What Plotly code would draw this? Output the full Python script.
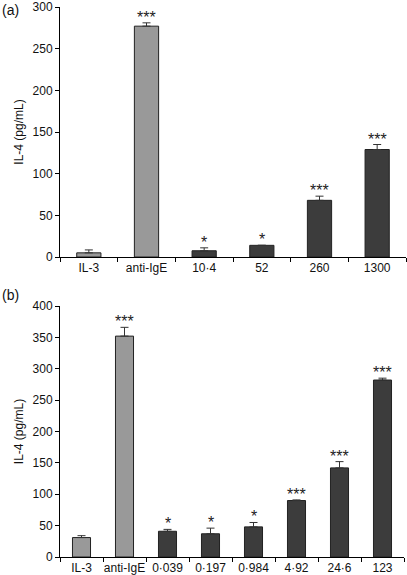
import plotly.graph_objects as go

cats_a = ["IL-3", "anti-IgE", "10·4", "52", "260", "1300"]
vals_a = [5, 277, 7.5, 14, 68, 129]
errs_a = [3.5, 4, 3.5, 0, 5, 6]
stars_a = ["", "***", "*", "*", "***", "***"]
colors_a = ["#999999", "#999999", "#3c3c3c", "#3c3c3c", "#3c3c3c", "#3c3c3c"]

cats_b = ["IL-3", "anti-IgE", "0·039", "0·197", "0·984", "4·92", "24·6", "123"]
vals_b = [31, 352, 41, 37, 48, 90, 142, 282]
errs_b = [3, 14, 3, 9, 7, 1, 10, 3]
stars_b = ["", "***", "*", "*", "*", "***", "***", "***"]
colors_b = ["#999999", "#999999"] + ["#3c3c3c"] * 6

FONT = "Liberation Sans, Arial, sans-serif"

fig = go.Figure()
fig.add_trace(go.Bar(
    x=cats_a, y=vals_a, xaxis="x", yaxis="y",
    marker=dict(color=colors_a, line=dict(color="#222222", width=1)),
    width=0.42,
    error_y=dict(type="data", array=errs_a, arrayminus=[0]*len(errs_a), symmetric=False,
                 color="#333333", thickness=1, width=4),
    showlegend=False, hoverinfo="skip"))
fig.add_trace(go.Bar(
    x=cats_b, y=vals_b, xaxis="x2", yaxis="y2",
    marker=dict(color=colors_b, line=dict(color="#222222", width=1)),
    width=0.42,
    error_y=dict(type="data", array=errs_b, arrayminus=[0]*len(errs_b), symmetric=False,
                 color="#333333", thickness=1, width=4),
    showlegend=False, hoverinfo="skip"))

ann = []
for i, (v, e, s) in enumerate(zip(vals_a, errs_a, stars_a)):
    if s:
        ann.append(dict(x=i, y=v + e, xref="x", yref="y", text=s, showarrow=False,
                        yanchor="bottom", yshift=-5, font=dict(size=16, color="#222")))
for i, (v, e, s) in enumerate(zip(vals_b, errs_b, stars_b)):
    if s:
        ann.append(dict(x=i, y=v + e, xref="x2", yref="y2", text=s, showarrow=False,
                        yanchor="bottom", yshift=-5, font=dict(size=16, color="#222")))
ann.append(dict(x=-60/346, y=1.0, xref="paper", yref="paper", text="(a)", showarrow=False,
                xanchor="left", yanchor="top", yshift=7, font=dict(size=14, color="#111")))
ann.append(dict(x=-60/346, y=(557-285)/550, xref="paper", yref="paper", text="(b)", showarrow=False,
                xanchor="left", yanchor="top", yshift=0, font=dict(size=14, color="#111")))

xcommon = dict(type="category", showline=True, linecolor="#000", linewidth=1,
               ticks="outside", tickson="boundaries", ticklen=4, tickcolor="#000",
               tickangle=0, automargin=False,
               tickfont=dict(size=12, color="#111", family=FONT), showgrid=False, zeroline=False)
ycommon = dict(showline=True, linecolor="#000", linewidth=1, ticks="outside", ticklen=4,
               tickcolor="#000", tickfont=dict(size=12, color="#111", family=FONT),
               showgrid=False, zeroline=False, automargin=False,
               title=dict(text="IL-4 (pg/mL)", font=dict(size=12, color="#111", family=FONT), standoff=6))

fig.update_layout(
    width=407, height=575,
    margin=dict(l=60, r=1, t=7, b=18),
    paper_bgcolor="white", plot_bgcolor="white",
    font=dict(family=FONT),
    bargap=0.58,
    xaxis=dict(domain=[0, 1], anchor="y", range=[-0.5, len(cats_a) - 0.5], **xcommon),
    yaxis=dict(domain=[300/550, 1], anchor="x", range=[0, 300], dtick=50, **ycommon),
    xaxis2=dict(domain=[0, 344/346], anchor="y2", range=[-0.5, len(cats_b) - 0.5], **xcommon),
    yaxis2=dict(domain=[0, 251/550], anchor="x2", range=[0, 400], dtick=50, **ycommon),
    annotations=ann,
)

fig.write_html("out.html", config={"displayModeBar": False},
               post_script="document.body.style.margin='0';document.body.style.overflow='hidden';")
